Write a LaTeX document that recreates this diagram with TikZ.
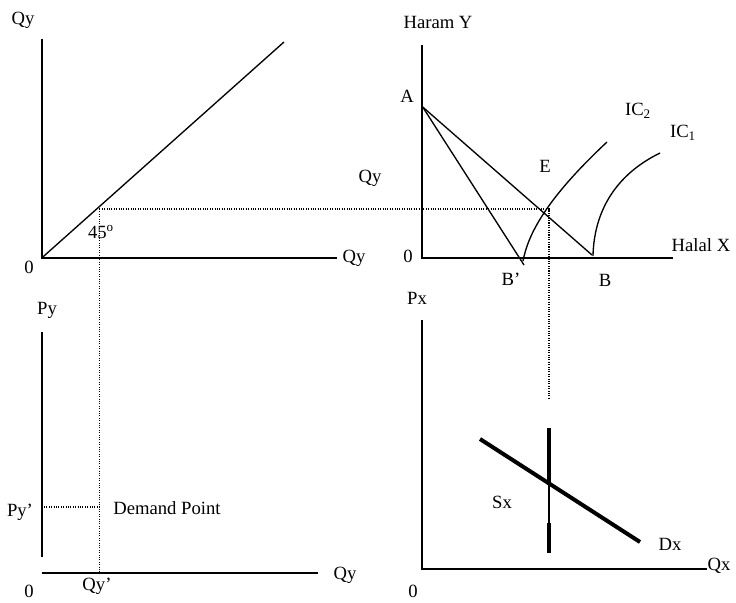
\documentclass[tikz,border=0pt]{standalone}
\usepackage{fontspec}
\setmainfont{Liberation Serif}
\usetikzlibrary{positioning}

\tikzset{
  axis/.style={line width=1.5pt},
  guide/.style={densely dotted, line width=0.8pt},
  budget/.style={line width=1pt},
  market/.style={line width=3pt},
  lbl/.style={inner sep=0pt, font=\fontsize{14}{16}\selectfont},
}

\begin{document}
\begin{tikzpicture}[x=0.75pt, y=-0.75pt]
    \useasboundingbox (0,0) rectangle (736,603);
    % 45 degree panel
    \coordinate (oA) at (41.7,258);
    \coordinate (yA) at (41.7,39);
    \coordinate (xA) at (337,258);
    \coordinate (diag) at (284,42);
    \coordinate (k) at (99.3,209);
    \draw[axis] (yA) -- (oA) -- (xA);
    \draw[budget] (oA) -- (diag);
    \node[lbl] (qyA) at (23,20) {Qy};
    \node[lbl] (zeroA) at (29,267) {0};
    \node[lbl] (qxA) at (354,258) {Qy};
    \node[lbl] (deg) at (101,232) {45\textsuperscript{o}};
    % consumer panel
    \coordinate (oB) at (422,258);
    \coordinate (yB) at (422,45);
    \coordinate (xB) at (673,258);
    \coordinate (a) at (422.7,107);
    \coordinate (b) at (592,255);
    \coordinate (bb) at (524,265);
    \coordinate (e) at (549,209);
    \draw[axis] (yB) -- (oB) -- (xB);
    \draw[budget] (a) -- (b);
    \draw[budget] (a) -- (bb);
    \draw[budget] (523,261) .. controls (528,235) and (545,200) .. (607,142);
    \draw[budget] (593,256) .. controls (594,212) and (615,175) .. (660,153);
    \node[lbl] (haram) at (438,22) {Haram Y};
    \node[lbl] (lblA) at (407,96) {A};
    \node[lbl] (qyB) at (370,178) {Qy};
    \node[lbl] (lblE) at (545,166) {E};
    \node[lbl] (zeroB) at (408,256) {0};
    \node[lbl] (halal) at (701,245) {Halal X};
    \node[lbl] (lblBB) at (511,279) {B’};
    \node[lbl] (lblB) at (605,280) {B};
    \node[lbl] (ictwo) at (638,111) {IC\textsubscript{2}};
    \node[lbl] (icone) at (683,133) {IC\textsubscript{1}};
    % demand for Y panel
    \coordinate (oC) at (41.7,573);
    \coordinate (yC) at (41.7,332);
    \coordinate (xC) at (318,573);
    \coordinate (py) at (44,507);
    \coordinate (qyfoot) at (99.3,573);
    \coordinate (pyk) at (99.3,507);
    \draw[axis] (yC) -- (41.7,557);
    \draw[axis] (oC) -- (xC);
    \node[lbl] (lblPy) at (47,310) {Py};
    \node[lbl] (lblPyd) at (20,512) {Py’};
    \node[lbl] (dpoint) at (167,508) {Demand Point};
    \node[lbl] (qxC) at (345,575) {Qy};
    \node[lbl] (zeroC) at (29,591) {0};
    \node[lbl] (lblQyd) at (97,586) {Qy’};
    % market for X panel
    \coordinate (oD) at (422,569);
    \coordinate (yD) at (422,320);
    \coordinate (xD) at (707,569);
    \coordinate (ebot) at (549,398);
    \coordinate (dtop) at (480,439);
    \coordinate (dbot) at (640,542);
    \draw[axis] (yD) -- (oD) -- (xD);
    \draw[market] (dtop) -- (dbot);
    \draw[market] (549,428) -- (549,485);
    \draw[line width=1pt] (549,485) -- (549,523);
    \draw[market] (549,523) -- (549,553);
    \node[lbl] (lblPx) at (417,298) {Px};
    \node[lbl] (lblQx) at (719,566) {Qx};
    \node[lbl] (zeroD) at (413,591) {0};
    \node[lbl] (lblSx) at (502,502) {Sx};
    \node[lbl] (lblDx) at (670,544) {Dx};
    % guide lines
    \draw[guide] (k) -- (e) -- (ebot);
    \draw[guide] (k) -- (qyfoot);
    \draw[guide] (py) -- (pyk);
\end{tikzpicture}
\end{document}
